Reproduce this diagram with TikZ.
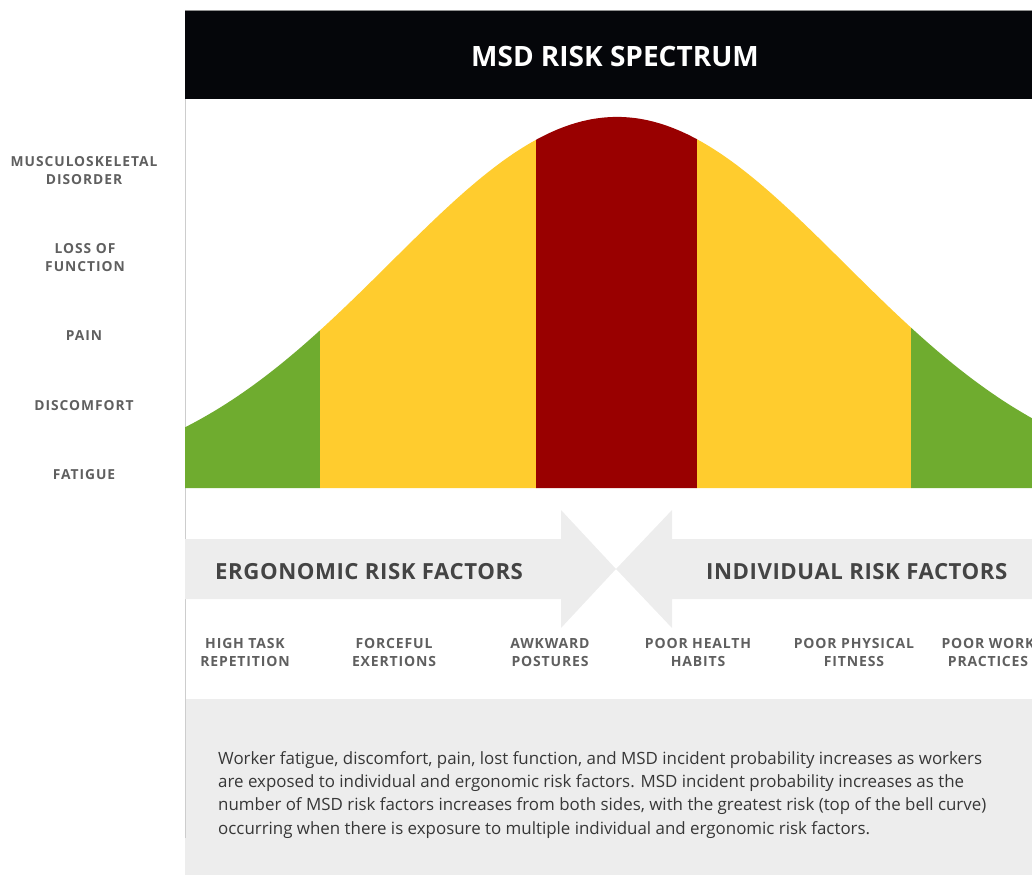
\documentclass[tikz,border=0pt]{standalone}
\usepackage{fontspec}
\setmainfont{Open Sans}
\newfontfamily\lblfont{Open Sans}[LetterSpace=7]
\newfontfamily\facfont{Open Sans}[LetterSpace=6]
\newfontfamily\bigfont{Open Sans}[LetterSpace=2.5]
\newfontfamily\parafont{Open Sans}
\definecolor{msdgreen}{RGB}{111,172,47}
\definecolor{msdyellow}{RGB}{255,204,46}
\definecolor{msdred}{RGB}{153,0,0}
\definecolor{bandgray}{RGB}{237,237,237}
\definecolor{labelgray}{RGB}{95,95,95}
\definecolor{headgray}{RGB}{68,68,68}
\definecolor{paragray}{RGB}{55,55,55}
\definecolor{headblack}{RGB}{5,6,10}
\definecolor{edgegray}{RGB}{205,205,205}
\tikzset{
  lvl/.style={anchor=base, inner sep=0pt, text=labelgray, font=\lblfont\bfseries\fontsize{13.8}{16}\selectfont},
  fac/.style={anchor=base, inner sep=0pt, text=labelgray, font=\facfont\bfseries\fontsize{14}{16}\selectfont},
  bigtitle/.style={anchor=base west, inner sep=0pt, text=headgray, font=\bigfont\bfseries\fontsize{22.2}{26}\selectfont},
  paraline/.style={anchor=base west, inner sep=0pt, text=paragray, font=\parafont\fontsize{16.9}{20}\selectfont},
}
\begin{document}
\begin{tikzpicture}[x=1pt,y=-1pt]
\useasboundingbox (0,0) rectangle (1032,877);
% bottom gray panel
\fill[bandgray] (185,699) rectangle (1032,875);
% left edge line
\draw[edgegray, line width=0.8pt] (185,10) -- (185,838);
% header
\fill[headblack] (185,10) rectangle (1032,99);
\draw[edgegray!70!black, line width=0.6pt] (185,10) -- (1032,10);
\node[anchor=base, inner sep=0pt, text=white, font=\bfseries\fontsize{28}{32}\selectfont] (title) at (615,67) {MSD RISK SPECTRUM};
% bell curve
\def\bell{488-371*exp(-0.5*((\x-617)/227)^2)}
\fill[msdgreen] (185,488) -- plot[domain=185:320,samples=40] (\x,{\bell}) -- (320,488) -- cycle;
\fill[msdyellow] (320,488) -- plot[domain=320:536,samples=50] (\x,{\bell}) -- (536,488) -- cycle;
\fill[msdred] (536,488) -- plot[domain=536:697,samples=50] (\x,{\bell}) -- (697,488) -- cycle;
\fill[msdyellow] (697,488) -- plot[domain=697:911,samples=50] (\x,{\bell}) -- (911,488) -- cycle;
\fill[msdgreen] (911,488) -- plot[domain=911:1032,samples=40] (\x,{\bell}) -- (1032,488) -- cycle;
% arrows
\fill[bandgray] (185,539) -- (561,539) -- (561,510) -- (616,569) -- (561,628) -- (561,599) -- (185,599) -- cycle;
\fill[bandgray] (1032,539) -- (672,539) -- (672,510) -- (616,569) -- (672,628) -- (672,599) -- (1032,599) -- cycle;
\node[bigtitle] (erg) at (215,579) {ERGONOMIC RISK FACTORS};
\node[bigtitle] (ind) at (706,579) {INDIVIDUAL RISK FACTORS};
% level labels
\node[lvl] (l1a) at (84,166.5) {MUSCULOSKELETAL};
\node[lvl] (l1b) at (84,185) {DISORDER};
\node[lvl] (l2a) at (85,253) {LOSS OF};
\node[lvl] (l2b) at (85,271.5) {FUNCTION};
\node[lvl] (l3) at (84,340.5) {PAIN};
\node[lvl] (l4) at (84,410) {DISCOMFORT};
\node[lvl] (l5) at (84,479.5) {FATIGUE};
% factor labels
\node[fac] (f1a) at (245,648) {HIGH TASK};
\node[fac] (f1b) at (245,666.5) {REPETITION};
\node[fac] (f2a) at (394,648) {FORCEFUL};
\node[fac] (f2b) at (394,666.5) {EXERTIONS};
\node[fac] (f3a) at (550,648) {AWKWARD};
\node[fac] (f3b) at (550,666.5) {POSTURES};
\node[fac] (f4a) at (698,648) {POOR HEALTH};
\node[fac] (f4b) at (698,666.5) {HABITS};
\node[fac] (f5a) at (854,648) {POOR PHYSICAL};
\node[fac] (f5b) at (854,666.5) {FITNESS};
\node[fac] (f6a) at (988,648) {POOR WORK};
\node[fac] (f6b) at (988,666.5) {PRACTICES};
% paragraph
\node[paraline] (p1) at (218,764) {Worker fatigue, discomfort, pain, lost function, and MSD incident probability increases as workers};
\node[paraline] (p2) at (218,787.3) {are exposed to individual and ergonomic risk factors. MSD incident probability increases as the};
\node[paraline] (p3) at (218,810.6) {number of MSD risk factors increases from both sides, with the greatest risk (top of the bell curve)};
\node[paraline] (p4) at (218,834) {occurring when there is exposure to multiple individual and ergonomic risk factors.};
\end{tikzpicture}
\end{document}
